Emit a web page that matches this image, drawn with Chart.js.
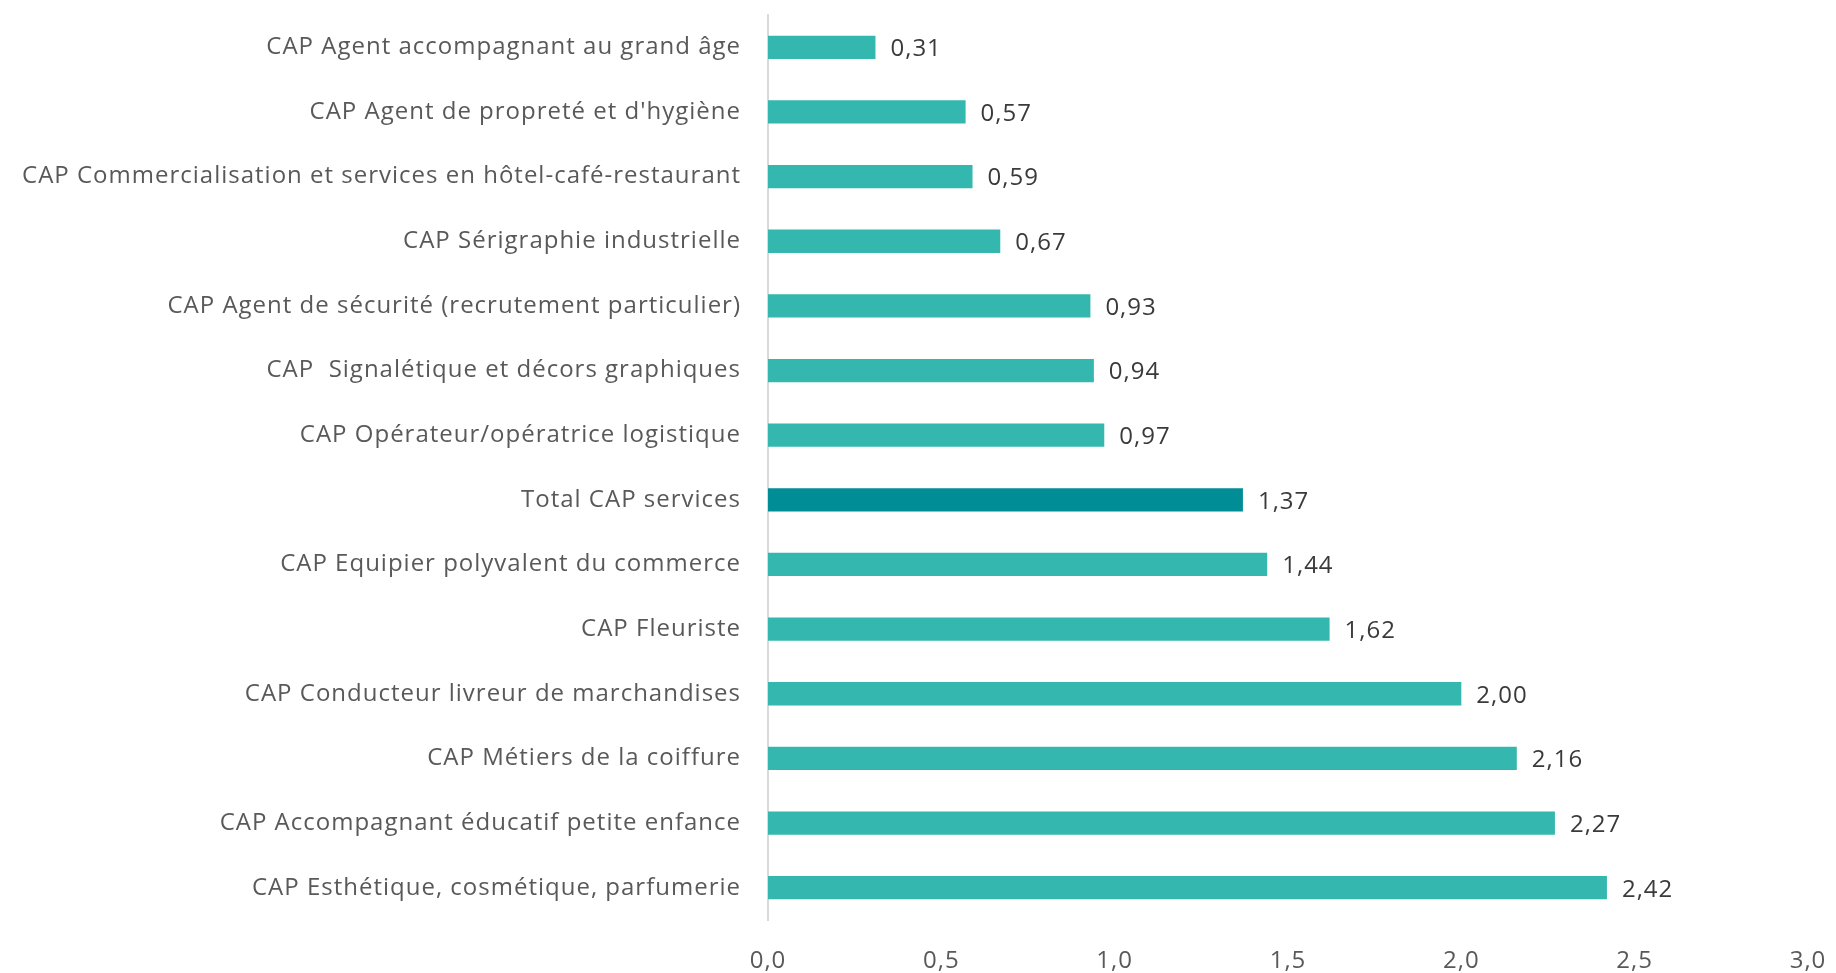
<!DOCTYPE html>
<html>
<head>
<meta charset="utf-8">
<script src="https://cdn.jsdelivr.net/npm/chart.js@4"></script>
<style>
  html, body { margin: 0; padding: 0; background: #fff; }
  #wrap { width: 1836px; height: 973px; position: relative; }
</style>
</head>
<body>
<div id="wrap"><canvas id="chart_cap"></canvas></div>
<script>
var categories = [
    'CAP Agent accompagnant au grand âge',
    "CAP Agent de propreté et d'hygiène",
    'CAP Commercialisation et services en hôtel-café-restaurant',
    'CAP Sérigraphie industrielle',
    'CAP Agent de sécurité (recrutement particulier)',
    'CAP  Signalétique et décors graphiques',
    'CAP Opérateur/opératrice logistique',
    'Total CAP services',
    'CAP Equipier polyvalent du commerce',
    'CAP Fleuriste',
    'CAP Conducteur livreur de marchandises',
    'CAP Métiers de la coiffure',
    'CAP Accompagnant éducatif petite enfance',
    'CAP Esthétique, cosmétique, parfumerie'
];
var values = [0.31, 0.57, 0.59, 0.67, 0.93, 0.94, 0.97, 1.37, 1.44, 1.62, 2.00, 2.16, 2.27, 2.42];
var totalLabel = 'Total CAP services';
var xTicks = [0, 0.5, 1, 1.5, 2, 2.5, 3];

var barColors = categories.map(function (c) {
    return c === totalLabel ? '#008d96' : '#33b7ae';
});

var FONT = '"Open Sans", "Noto Sans", sans-serif';

function frNum(v, d) {
    return v.toFixed(d).replace('.', ',');
}

// slightly wider text, closer to the original font
function spacing(chart) {
    chart.ctx.letterSpacing = '1px';
}

var valueLabels = {
    id: 'valueLabels',
    beforeLayout: spacing,
    beforeDraw: spacing,
    afterDatasetsDraw: function (chart) {
        var ctx = chart.ctx;
        var meta = chart.getDatasetMeta(0);
        ctx.save();
        ctx.font = '24px ' + FONT;
        ctx.fillStyle = '#3a3a3a';
        ctx.textAlign = 'left';
        ctx.textBaseline = 'middle';
        meta.data.forEach(function (bar, i) {
            ctx.fillText(frNum(values[i], 2), bar.x + 15, bar.y + 2);
        });
        ctx.restore();
    }
};

var chart_cap = new Chart(document.getElementById('chart_cap'), {
    type: 'bar',
    data: {
        labels: categories,
        datasets: [{
            data: values,
            backgroundColor: barColors,
            borderWidth: 0,
            barPercentage: 0.36,
            categoryPercentage: 1
        }]
    },
    options: {
        indexAxis: 'y',
        animation: false,
        responsive: true,
        maintainAspectRatio: false,
        layout: { padding: { left: 0, right: 28, top: 15, bottom: 0 } },
        plugins: {
            legend: { display: false },
            tooltip: { enabled: false }
        },
        scales: {
            x: {
                min: 0,
                max: 3,
                afterBuildTicks: function (axis) {
                    axis.ticks = xTicks.map(function (v) { return { value: v }; });
                },
                afterFit: function (axis) {
                    axis.height = 53;
                    axis.paddingLeft = 0;
                    axis.paddingRight = 0;
                },
                grid: { display: false, drawTicks: false },
                border: { display: false },
                ticks: {
                    padding: 27,
                    color: '#595959',
                    font: { family: FONT, size: 24 },
                    callback: function (v) { return frNum(v, 1); }
                }
            },
            y: {
                afterFit: function (axis) {
                    axis.width = 768;
                    axis.paddingTop = 0;
                    axis.paddingBottom = 0;
                },
                grid: { display: false, drawTicks: false },
                border: { display: true, color: '#d9d9d9', width: 2 },
                ticks: {
                    padding: 27,
                    color: '#595959',
                    font: { family: FONT, size: 24 }
                }
            }
        }
    },
    plugins: [valueLabels, {
        id: 'whiteBg',
        beforeDraw: function (chart) {
            var ctx = chart.canvas.getContext('2d');
            ctx.save();
            ctx.globalCompositeOperation = 'destination-over';
            ctx.fillStyle = 'white';
            ctx.fillRect(0, 0, chart.canvas.width, chart.canvas.height);
            ctx.restore();
        }
    }]
});
</script>
</body>
</html>
